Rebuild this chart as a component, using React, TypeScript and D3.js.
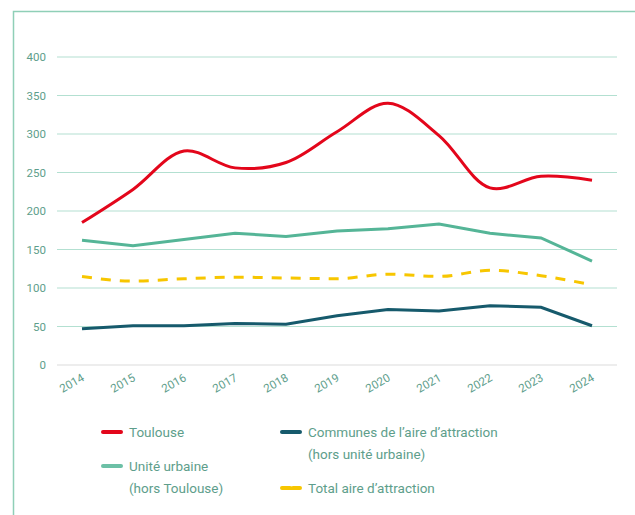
import React, { useEffect, useRef } from 'react';
import * as d3 from 'd3';

const years = ['2014', '2015', '2016', '2017', '2018', '2019', '2020', '2021', '2022', '2023', '2024'];
const toulouse = [185, 228, 278, 256, 263, 303, 340, 298, 230, 245, 240];
const uniteUrbaine = [162, 155, 163, 171, 167, 174, 177, 183, 171, 165, 135];
const communes = [47, 51, 51, 54, 53, 64, 72, 70, 77, 75, 51];
const totalAire = [115, 109, 112, 114, 113, 112, 118, 115, 123, 116, 104];
const yTicks = [0, 50, 100, 150, 200, 250, 300, 350, 400];

const textColor = '#5e9e8b';
const font = 'Roboto, "DejaVu Sans", sans-serif';

export default function App() {
  const ref = useRef<SVGSVGElement>(null);

  useEffect(() => {
    const svg = d3.select(ref.current);
    svg.selectAll('*').remove();

    const left = 57, right = 617, top = 57, bottom = 365;

    const x = d3.scalePoint().domain(years).range([82, 592]);
    const y = d3.scaleLinear().domain([0, 400]).range([bottom, top]);

    // cadre
    svg.append('path')
      .attr('d', 'M13.5,515 L13.5,11.5 L635,11.5')
      .attr('fill', 'none')
      .attr('stroke', '#8fcfb7')
      .attr('stroke-width', 1.5);

    // grille
    const grid = svg.append('g');
    yTicks.forEach(t => {
      grid.append('line')
        .attr('x1', left).attr('x2', right)
        .attr('y1', y(t)).attr('y2', y(t))
        .attr('stroke', t === 0 ? '#dcdcdc' : '#b3e0d1')
        .attr('stroke-width', 1.2);
      grid.append('text')
        .attr('x', 46).attr('y', y(t))
        .attr('dy', '0.35em')
        .attr('text-anchor', 'end')
        .attr('font-family', font)
        .attr('font-size', 11.5)
        .attr('fill', textColor)
        .text(t);
    });

    // axe x
    years.forEach(yr => {
      svg.append('text')
        .attr('transform', `translate(${(x(yr) as number) + 3},${bottom + 15}) rotate(-30)`)
        .attr('text-anchor', 'end')
        .attr('font-family', font)
        .attr('font-size', 11.5)
        .attr('fill', textColor)
        .text(yr);
    });

    const series = [
      { values: communes, color: '#165a6c', curve: d3.curveLinear, dash: null },
      { values: totalAire, color: '#f7c600', curve: d3.curveMonotoneX, dash: '10,9' },
      { values: uniteUrbaine, color: '#55b597', curve: d3.curveLinear, dash: null },
      { values: toulouse, color: '#e3061b', curve: d3.curveCatmullRom.alpha(0.5), dash: null },
    ];

    series.forEach(s => {
      const line = d3.line<number>()
        .x((d, i) => x(years[i]) as number)
        .y(d => y(d))
        .curve(s.curve);
      svg.append('path')
        .datum(s.values)
        .attr('d', line)
        .attr('fill', 'none')
        .attr('stroke', s.color)
        .attr('stroke-width', 3)
        .attr('stroke-dasharray', s.dash as any);
    });

    // légende
    const legend = [
      { lines: ['Toulouse'], color: '#e3061b', x: 103, y: 432, dash: null },
      { lines: ['Communes de l\u2019aire d\u2019attraction', '(hors unité urbaine)'], color: '#165a6c', x: 282, y: 432, dash: null },
      { lines: ['Unité urbaine', '(hors Toulouse)'], color: '#6cc0a6', x: 103, y: 466, dash: null },
      { lines: ['Total aire d\u2019attraction'], color: '#f7c600', x: 282, y: 488, dash: '8,3' },
    ];
    legend.forEach(l => {
      svg.append('line')
        .attr('x1', l.x).attr('x2', l.x + 18)
        .attr('y1', l.y).attr('y2', l.y)
        .attr('stroke', l.color)
        .attr('stroke-width', 4)
        .attr('stroke-linecap', 'round')
        .attr('stroke-dasharray', l.dash as any);
      l.lines.forEach((t, i) => {
        svg.append('text')
          .attr('x', l.x + 26)
          .attr('y', l.y + i * 22)
          .attr('dy', '0.35em')
          .attr('font-family', font)
          .attr('font-size', 13.5)
          .attr('fill', textColor)
          .text(t);
      });
    });
  }, []);

  return (
    <svg ref={ref} width={635} height={515}
      style={{ position: 'absolute', left: 0, top: 0, background: '#fff' }} />
  );
}
